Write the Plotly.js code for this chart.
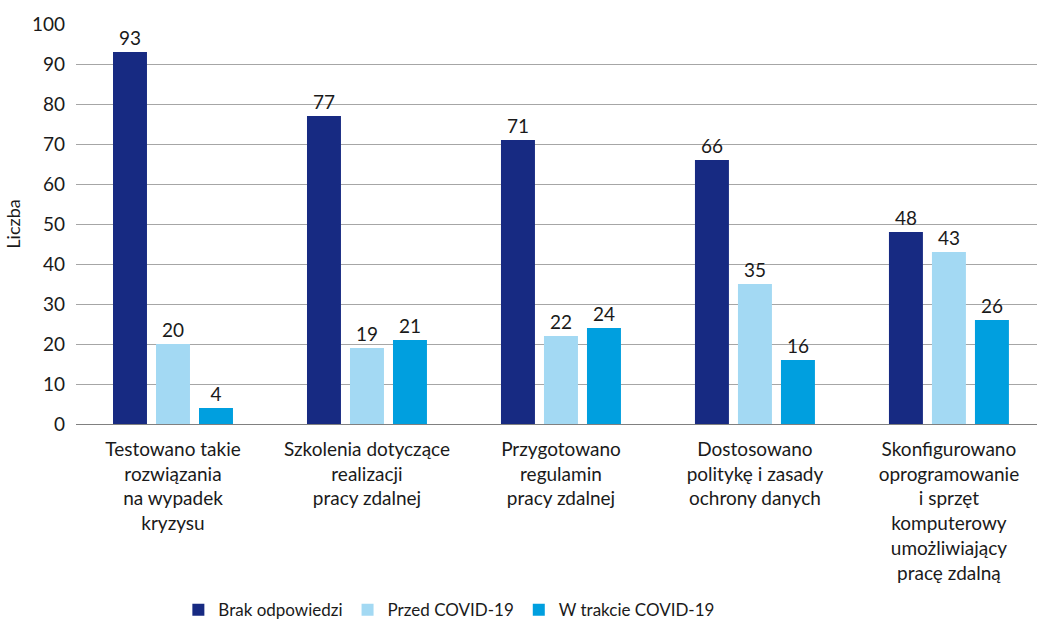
<!DOCTYPE html>
<html>
<head>
<meta charset="utf-8">
<script src="https://cdn.plot.ly/plotly-3.0.1.min.js"></script>
<style>
  html, body { margin: 0; padding: 0; background: #fff; }
  #chart { width: 1037px; height: 620px; }
</style>
</head>
<body>
<div id="chart"></div>
<script>
// Działania przygotowujące do pracy zdalnej
const categories = [
  "Testowano takie<br>rozwiązania<br>na wypadek<br>kryzysu",
  "Szkolenia dotyczące<br>realizacji<br>pracy zdalnej",
  "Przygotowano<br>regulamin<br>pracy zdalnej",
  "Dostosowano<br>politykę i zasady<br>ochrony danych",
  "Skonfigurowano<br>oprogramowanie<br>i sprzęt<br>komputerowy<br>umożliwiający<br>pracę zdalną"
];
const seriesNames = ["Brak odpowiedzi", "Przed COVID-19", "W trakcie COVID-19"];
const brakOdpowiedzi = [93, 77, 71, 66, 48];
const przedCovid = [20, 19, 22, 35, 43];
const wTrakcieCovid = [4, 21, 24, 16, 26];
const yTicks = [0, 10, 20, 30, 40, 50, 60, 70, 80, 90, 100];

const colors = ["#172A82", "#A3D9F3", "#009FDF"];
const FONT = "Lato, 'Open Sans', sans-serif";
const TXT = "#1a1a1a";

const values = [brakOdpowiedzi, przedCovid, wTrakcieCovid];
const traces = values.map((vals, i) => ({
  type: "bar",
  name: seriesNames[i],
  x: categories,
  y: vals,
  text: vals.map(String),
  textposition: "outside",
  textfont: { family: FONT, size: 19, color: TXT },
  cliponaxis: false,
  marker: { color: colors[i], line: { width: 0 } },
  hoverinfo: "skip"
}));

const layout = {
  width: 1037,
  height: 620,
  margin: { l: 76, r: 0, t: 24, b: 196 },
  paper_bgcolor: "#ffffff",
  plot_bgcolor: "#ffffff",
  font: { family: FONT, size: 19, color: TXT },
  barmode: "group",
  bargap: 0.335,
  bargroupgap: 0.21,
  xaxis: {
    type: "category",
    range: [-0.5, 4.454],
    showgrid: false,
    showline: false,
    ticks: "",
    ticklabelstandoff: 12,
    tickfont: { family: FONT, size: 19, color: TXT },
    automargin: false
  },
  yaxis: {
    range: [0, 100],
    tickvals: yTicks,
    ticktext: yTicks.map(String),
    showgrid: true,
    gridcolor: "#A6A6A6",
    gridwidth: 1,
    zeroline: true,
    zerolinecolor: "#808080",
    zerolinewidth: 1,
    showline: false,
    ticks: "",
    ticklabelstandoff: 10,
    tickfont: { family: FONT, size: 19, color: TXT },
    title: { text: "Liczba", font: { family: FONT, size: 18, color: TXT }, standoff: 6 },
    automargin: false
  },
  showlegend: true,
  legend: {
    orientation: "h",
    xref: "container",
    yref: "container",
    x: 0.172,
    xanchor: "left",
    y: 0.016,
    yanchor: "middle",
    font: { family: FONT, size: 17, color: TXT },
    traceorder: "normal",
    bgcolor: "rgba(0,0,0,0)"
  }
};

Plotly.newPlot("chart", traces, layout, { displayModeBar: false, staticPlot: true });
</script>
</body>
</html>
